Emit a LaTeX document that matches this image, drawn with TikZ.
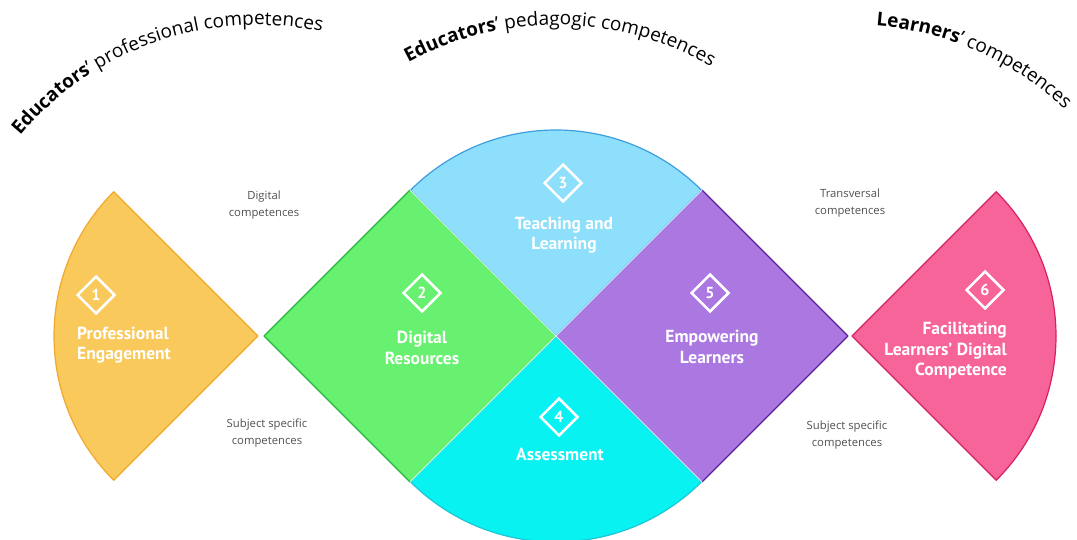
\documentclass[tikz,border=0pt]{standalone}
\usepackage{fontspec}
\setmainfont{Open Sans}
\newfontfamily\labfont{PT Sans}
\usetikzlibrary{shapes.geometric,decorations.text}

\definecolor{engfill}{HTML}{F9C95C}
\definecolor{engline}{HTML}{EFA92F}
\definecolor{resfill}{HTML}{68F070}
\definecolor{resline}{HTML}{27B53A}
\definecolor{teachfill}{HTML}{8EDFFB}
\definecolor{teachline}{HTML}{3C9FE0}
\definecolor{assessfill}{HTML}{08F2F2}
\definecolor{assessline}{HTML}{1BC6D6}
\definecolor{empfill}{HTML}{AB77E0}
\definecolor{empline}{HTML}{5A1E9B}
\definecolor{facfill}{HTML}{F7649A}
\definecolor{facline}{HTML}{D81F5F}
\definecolor{notegray}{HTML}{505050}
\definecolor{titleink}{HTML}{1E1E1E}

\newcommand\ttlbold{\fontsize{19}{23}\selectfont\bfseries}
\newcommand\ttlreg{\fontsize{19}{23}\selectfont\mdseries}

\begin{document}
\begin{tikzpicture}[x=1pt,y=1pt,
  piece/.style={line width=1.2pt, line join=round},
  seam/.style={draw=white, line width=0.8pt, opacity=0.75},
  numdia/.style={diamond, draw=white, line width=2.5pt, minimum width=38pt,
    minimum height=38pt, inner sep=0pt, text=white,
    font=\labfont\bfseries\fontsize{16}{16}\selectfont},
  area/.style={text=white, inner sep=0pt,
    font=\labfont\bfseries\fontsize{17.5}{20.5}\selectfont},
  note/.style={text=notegray, align=center, inner sep=0pt,
    font=\fontsize{11.3}{16.5}\selectfont},
  arctitle/.style={decorate, text=titleink,
    decoration={text along path, text align=center, text={#1}}},
]
\useasboundingbox (0,-540) rectangle (1077,0);

% central disc: upper and lower quarters
\filldraw[piece, fill=teachfill, draw=teachline]
  (556,-336) -- ([shift={(45:206)}]556,-336)
  arc[start angle=45, end angle=135, radius=206] -- cycle;
\filldraw[piece, fill=assessfill, draw=assessline]
  (556,-336) -- ([shift={(-45:206)}]556,-336)
  arc[start angle=-45, end angle=-135, radius=206] -- cycle;

% digital resources square
\fill[resfill] (264,-336) -- (410,-190) -- (556,-336) -- (410,-482) -- cycle;
\draw[piece, draw=resline] (410,-190) -- (264,-336) -- (410,-482);
\draw[seam] (410,-190) -- (556,-336) -- (410,-482);

% empowering learners square
\fill[empfill] (556,-336) -- (702,-190) -- (848,-336) -- (702,-482) -- cycle;
\draw[piece, draw=empline] (702,-190) -- (848,-336) -- (702,-482);
\draw[seam] (702,-190) -- (556,-336) -- (702,-482);

% outer sectors
\filldraw[piece, fill=engfill, draw=engline]
  (258,-336) -- ([shift={(135:204)}]258,-336)
  arc[start angle=135, end angle=225, radius=204] -- cycle;
\filldraw[piece, fill=facfill, draw=facline]
  (852,-336) -- ([shift={(45:204)}]852,-336)
  arc[start angle=45, end angle=-45, radius=204] -- cycle;

% curved headings
\path[arctitle={|\ttlbold|Educators|\ttlreg|’ professional competences}]
  ([shift={(159:311)}]258,-336) arc[start angle=159, end angle=59, radius=311];
\path[arctitle={|\ttlbold|Educators|\ttlreg|’ pedagogic competences}]
  ([shift={(139.2:311)}]556,-336) arc[start angle=139.2, end angle=39.2, radius=311];
\path[arctitle={|\ttlbold|Learners|\ttlreg|’ competences}]
  ([shift={(116.2:311)}]852,-336) arc[start angle=116.2, end angle=16.2, radius=311];

% area markers and names
\node[numdia] (n1) at (96,-295) {1};
\node[area, align=left, anchor=west] (a1) at (77,-345) {Professional\\Engagement};
\node[numdia] (n2) at (422,-293) {2};
\node[area, align=center] (a2) at (422,-348) {Digital\\Resources};
\node[numdia] (n3) at (563,-183) {3};
\node[area, align=center] (a3) at (564,-235) {Teaching and\\Learning};
\node[numdia] (n4) at (559,-417) {4};
\node[area, align=center] (a4) at (560,-454) {Assessment};
\node[numdia] (n5) at (710,-293) {5};
\node[area, align=center] (a5) at (712,-347) {Empowering\\Learners};
\node[numdia] (n6) at (985,-290) {6};
\node[area, align=right, anchor=east] (a6) at (1007,-351) {Facilitating\\Learners’ Digital\\Competence};

% side notes
\node[note] (c1) at (264,-205) {Digital\\competences};
\node[note] (c2) at (267,-433) {Subject specific\\competences};
\node[note] (c3) at (850,-203) {Transversal\\competences};
\node[note] (c4) at (847,-435) {Subject specific\\competences};
\end{tikzpicture}
\end{document}
